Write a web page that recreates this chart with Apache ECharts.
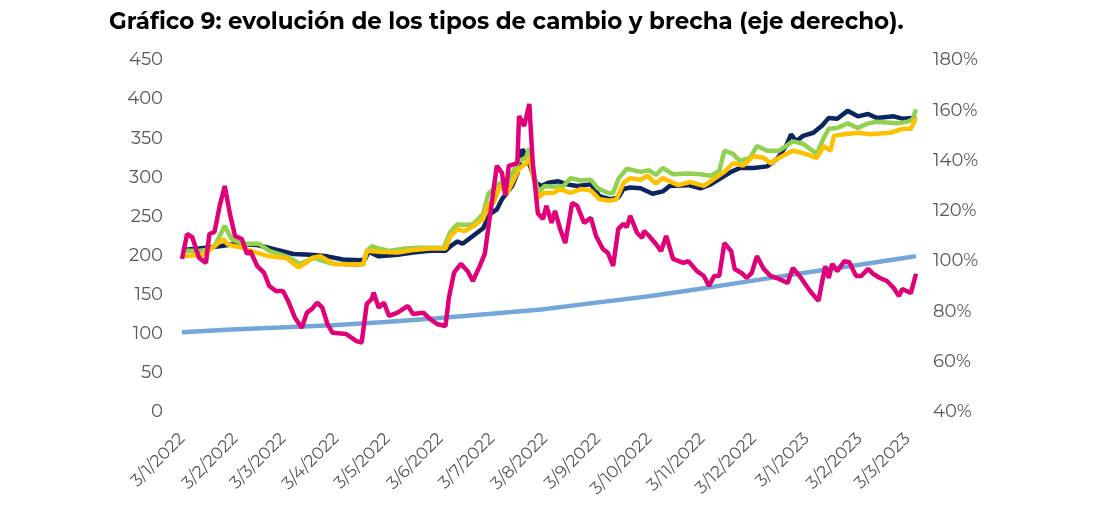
<!DOCTYPE html>
<html>
<head>
<meta charset="utf-8">
<script src="https://cdn.jsdelivr.net/npm/echarts@6/dist/echarts.min.js"></script>
<style>
html,body{margin:0;padding:0;background:#fff;}
#chart{width:1099px;height:515px;}
</style>
</head>
<body>
<div id="chart"></div>
<script>
// x values are days since 3/1/2022
const tickLabels = ['3/1/2022','3/2/2022','3/3/2022','3/4/2022','3/5/2022','3/6/2022','3/7/2022','3/8/2022','3/9/2022','3/10/2022','3/11/2022','3/12/2022','3/1/2023','3/2/2023','3/3/2023'];

const officialDays = [0,29,57,88,119,149,179,210,241,273,302,332,364,394,422,424,429];
const officialValues = [102,105.4,107.9,111.0,115.2,119.8,125.2,131.0,139.5,148.0,157.3,167.3,178.1,187.5,197.0,197.6,199.3];

const navyDays = [0,10,22,32,44,54,65,75,85,94,104,107,109,115,126,135,145,154,157,161,164,170,176,180,184,187,193,196,199,202,207,210,214,220,225,231,239,244,250,255,258,262,268,275,281,285,296,303,309,315,321,326,334,342,348,353,356,359,363,369,374,378,383,389,395,401,406,416,421,427,429];
const navyValues = [207,209,212,215,213.5,208,202,201,199,195,194,195,205,199,201,204,206,206,212,218,215,225,235,253,259,272,289,305,336,323,293,289,293,295,291,289,291,276,272,274,285,287,286,279,282,289,290,286,291,299,307,312,312,314,324,340,355,346,353,357,366,376,375,385,378,381,376,378,375,376,375];

const greenDays = [0,10,16,19,22,25,29,35,45,51,61,66,69,77,87,102,106,108,111,115,121,130,139,153,157,161,165,170,176,179,186,190,193,197,201,203,208,212,217,223,227,233,239,243,249,252,255,260,268,273,277,281,287,296,303,309,314,317,322,326,332,336,342,349,357,363,371,375,378,383,389,395,401,406,418,424,427,429];
const greenValues = [206,206,208,212,225,238,221,215,215,206,199,193,189,197,190,188,189,206,212,209,206,209,210,210,231,240,239,240,253,279,293,293,305,321,325,337,280,289,288,289,299,296,297,286,280,280,298,311,307,309,303,312,304,305,304,302,308,334,330,321,325,340,334,334,346,343,330,350,362,363,369,363,369,371,369,371,374,387];

const yellowDays = [0,12,19,24,27,35,43,51,61,68,72,76,81,89,102,106,108,115,126,135,145,154,157,161,165,170,176,179,182,186,190,193,197,201,203,208,212,217,221,227,233,239,244,250,254,258,262,268,272,277,281,290,297,305,311,317,322,328,334,340,344,349,357,363,371,375,379,381,387,395,402,414,421,426,429];
const yellowValues = [199,201,212,221,214,210,204,199,197,185,190,197,199,189,189,189,206,205,204,207,209,209,225,234,231,237,247,266,267,289,280,293,311,318,325,274,280,280,285,280,285,283,272,270,272,293,299,297,302,292,299,290,294,289,298,307,318,315,327,325,318,325,334,331,325,340,334,353,355,357,355,357,362,362,376];

// brecha (%), right axis
const gapDays = [0,3,6,10,14,16,19,22,25,28,31,35,38,40,44,48,51,55,59,62,66,70,73,76,79,82,85,88,96,102,105,108,111,112,115,118,121,126,132,135,141,145,149,154,156,159,163,167,170,174,177,180,184,187,189,191,196,197,200,203,205,208,211,213,216,218,221,224,228,231,235,239,242,246,249,252,255,258,260,262,266,269,270,273,277,280,283,287,293,296,301,305,308,311,314,317,321,323,327,330,333,336,340,344,349,354,357,361,365,368,372,374,376,378,380,383,387,390,394,397,401,404,408,412,416,419,421,426,429];
const gapValues = [100.9,110.8,109.5,101.3,99.3,110.8,111.6,121.9,129.9,118.8,110,108.8,102.8,104,98,95.3,90.1,88.1,88.1,84.2,77.5,73.5,79.5,81,83.5,81.5,75,71.5,71,68.2,67.6,83,85,87.5,81.5,83.5,78.2,79.5,82.2,79,79.5,77,75,74.2,85.5,95.4,98.9,96,92.1,98,103,118,137.9,135.1,126,137.9,139,157.7,153.8,162.5,139,119,116.8,122,115.2,120,112.8,107.2,123.1,122,115.2,117.2,110,104.8,103.2,98.1,112.8,114.8,113.5,118,111.2,109.2,112,110,106.8,104,110,100.9,99.3,100,96,94.1,90.1,94.1,94.1,107.2,104,96.9,95.3,93.3,95.3,102,96.9,94.1,92.9,91.3,97.3,94.1,90.1,87.3,84.2,91.3,98,93.3,98.9,96,100,99.6,94.1,94.1,96.9,94.9,93.3,92.1,89.3,86.1,88.9,87.3,95];

function labelToDay(s){
  const p = s.split('/').map(Number);
  const t = Date.UTC(p[2], p[1]-1, p[0]);
  return Math.round((t - Date.UTC(2022,0,3)) / 86400000);
}
const tickDays = tickLabels.map(labelToDay);
const zip = (a,b) => a.map((d,i) => [d, b[i]]);

const FONT = 'Montserrat, Lato, "Open Sans", sans-serif';
const chart = echarts.init(document.getElementById('chart'));
const lineBase = {type:'line', showSymbol:false, symbol:'none', smooth:false, animation:false};
chart.setOption({
  animation:false,
  title:{text:'Gráfico 9: evolución de los tipos de cambio y brecha (eje derecho).', left:104, top:6,
    textStyle:{fontFamily:FONT, fontWeight:'bold', fontSize:23, color:'#000'}},
  grid:{left:182, right:183, top:60, bottom:103},
  xAxis:{type:'value', min:0, max:429,
    axisLine:{show:false}, axisTick:{show:false}, splitLine:{show:false},
    axisLabel:{customValues:tickDays, rotate:45, margin:24, fontSize:17, color:'#595959', fontFamily:FONT,
      formatter:function(v){ const i = tickDays.indexOf(Math.round(v)); return i>=0 ? tickLabels[i] : ''; }}},
  yAxis:[
    {type:'value', min:0, max:450, interval:50, splitLine:{show:false}, axisLine:{show:false}, axisTick:{show:false},
      axisLabel:{margin:19, fontSize:18, color:'#595959', fontFamily:FONT}},
    {type:'value', min:40, max:180, interval:20, position:'right', splitLine:{show:false}, axisLine:{show:false}, axisTick:{show:false},
      axisLabel:{margin:17, fontSize:18, color:'#595959', fontFamily:FONT, formatter:'{value}%'}}
  ],
  series:[
    Object.assign({}, lineBase, {name:'Oficial', yAxisIndex:0, data:zip(officialDays, officialValues), lineStyle:{color:'#74a6da', width:4.5}, z:2}),
    Object.assign({}, lineBase, {name:'A', yAxisIndex:0, data:zip(navyDays, navyValues), lineStyle:{color:'#0c2560', width:4.5}, z:3}),
    Object.assign({}, lineBase, {name:'B', yAxisIndex:0, data:zip(greenDays, greenValues), lineStyle:{color:'#92d050', width:4.5}, z:4}),
    Object.assign({}, lineBase, {name:'C', yAxisIndex:0, data:zip(yellowDays, yellowValues), lineStyle:{color:'#ffc000', width:4.5}, z:5}),
    Object.assign({}, lineBase, {name:'Brecha', yAxisIndex:1, data:zip(gapDays, gapValues), lineStyle:{color:'#e0007a', width:4.5}, z:6})
  ]
});
</script>
</body>
</html>
